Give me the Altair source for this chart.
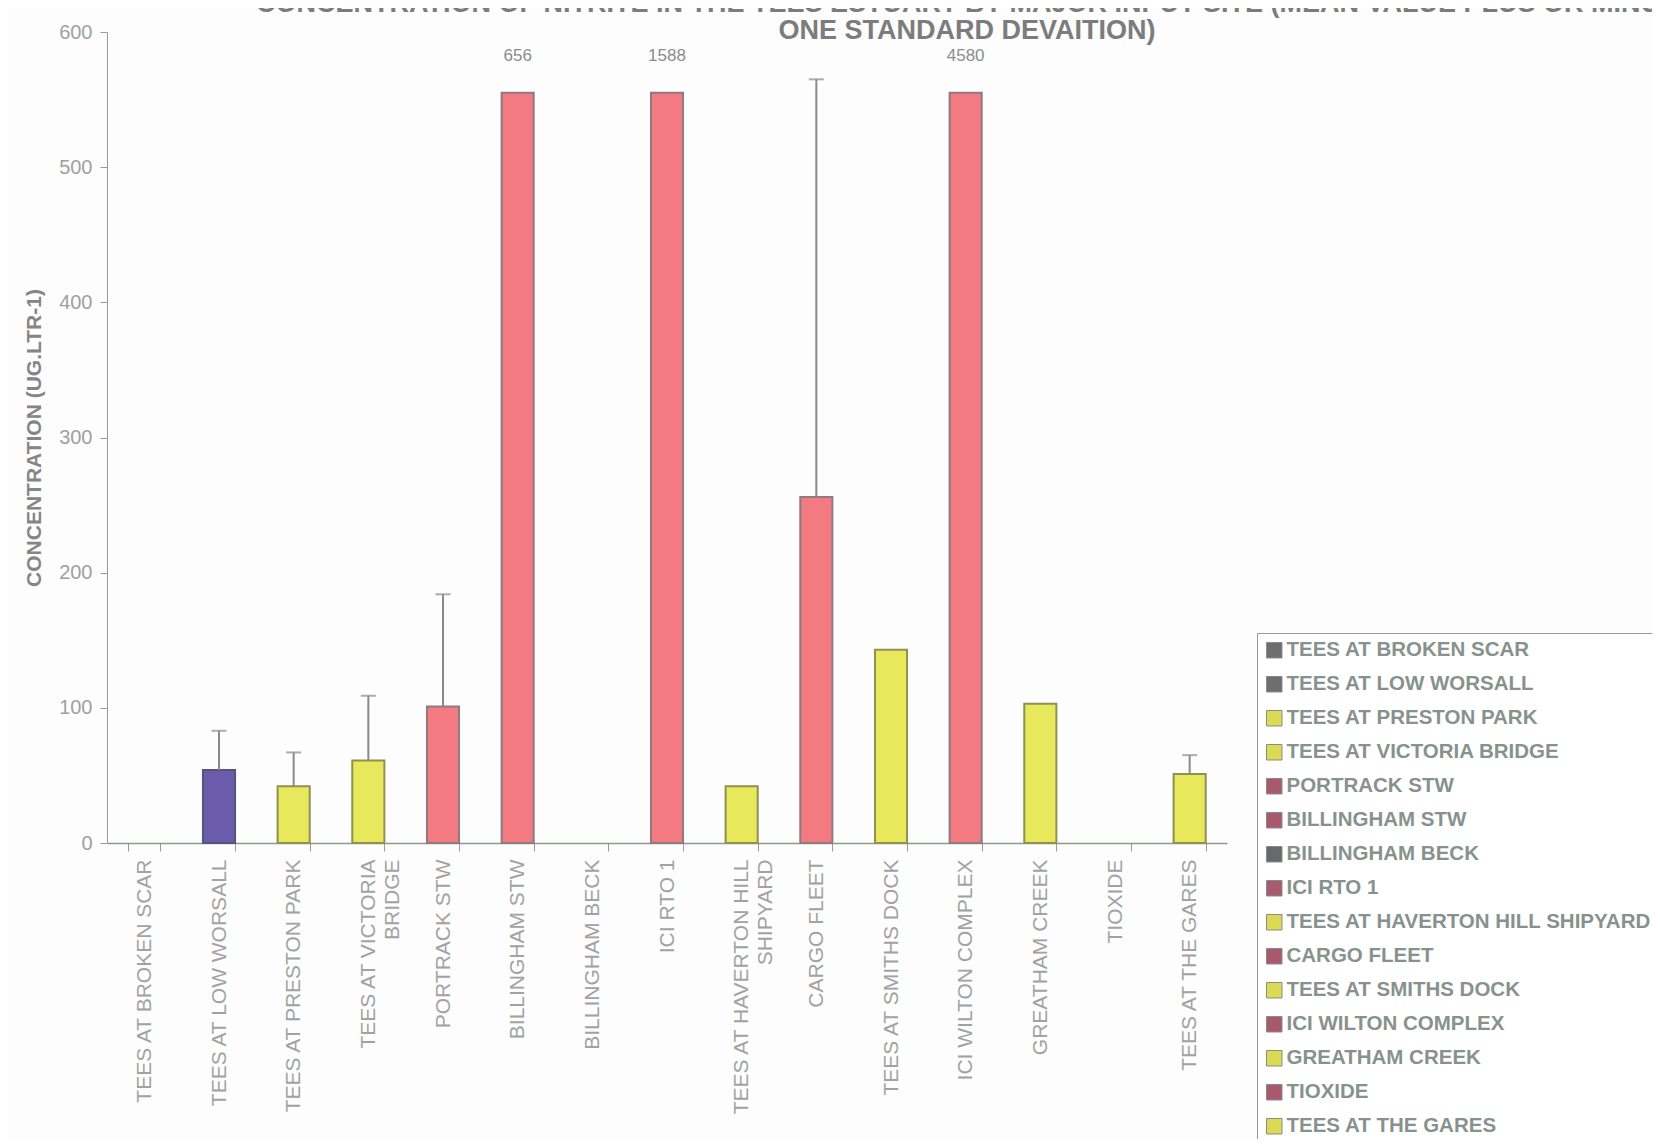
import altair as alt
import pandas as pd

sites = [
    "TEES AT BROKEN SCAR", "TEES AT LOW WORSALL", "TEES AT PRESTON PARK",
    "TEES AT VICTORIA BRIDGE", "PORTRACK STW", "BILLINGHAM STW", "BILLINGHAM BECK",
    "ICI RTO 1", "TEES AT HAVERTON HILL SHIPYARD", "CARGO FLEET", "TEES AT SMITHS DOCK",
    "ICI WILTON COMPLEX", "GREATHAM CREEK", "TIOXIDE", "TEES AT THE GARES",
]
means = [0, 54, 42, 61, 101, 656, 0, 1588, 42, 256, 143, 4580, 103, 0, 51]
sds = [0, 29, 25, 48, 83, 0, 0, 0, 0, 309, 0, 0, 0, 0, 14]

bar_fill = ["#707070", "#6a5cab", "#e8e85c", "#e8e85c", "#f27a80", "#f27a80", "#707070",
            "#f27a80", "#e8e85c", "#f27a80", "#e8e85c", "#f27a80", "#e8e85c", "#f27a80", "#e8e85c"]
bar_stroke = ["#777777", "#55557a", "#8f9150", "#8f9150", "#8c7c80", "#8c7c80", "#777777",
              "#8c7c80", "#8f9150", "#8c7c80", "#8f9150", "#8c7c80", "#8f9150", "#8c7c80", "#8f9150"]
legend_colors = ["#6e6e6e", "#6e6e6e", "#dada55", "#dada55", "#a85a6c", "#a85a6c", "#666a6a",
                 "#a85a70", "#dada55", "#a85a6c", "#dada55", "#a85a6c", "#dada55", "#a85a6c", "#dada55"]

title_lines = [
    "CONCENTRATION OF NITRITE IN THE TEES ESTUARY BY MAJOR INPUT SITE (MEAN VALUE PLUS OR MINUS",
    "ONE STANDARD DEVAITION)",
]
y_title = "CONCENTRATION (UG.LTR-1)"
y_ticks = [0, 100, 200, 300, 400, 500, 600]
wrapped = {
    "TEES AT VICTORIA BRIDGE": ["TEES AT VICTORIA", "BRIDGE"],
    "TEES AT HAVERTON HILL SHIPYARD": ["TEES AT HAVERTON HILL", "SHIPYARD"],
}

AXIS_MAX = 600
CLIP = 555  # bars beyond the axis are drawn cut off, as in the original

df = pd.DataFrame({"site": sites, "mean": means, "sd": sds})
df["key"] = df["site"]
df["shown"] = df["mean"].clip(upper=CLIP)
df["top"] = df["mean"] + df["sd"]
df["lab"] = df["mean"].astype(str)

label_expr = ""
for k, v in wrapped.items():
    label_expr += "datum.value == '%s' ? [%s] : " % (k, ", ".join("'%s'" % s for s in v))
label_expr += "datum.value"

FONT = "Liberation Sans"

x_enc = alt.X(
    "site:N", sort=sites,
    scale=alt.Scale(domain=sites, paddingInner=0.57, paddingOuter=0.285),
    axis=alt.Axis(
        title=None, labelAngle=270, labelAlign="right", labelBaseline="middle",
        labelFont=FONT, labelFontSize=21, labelColor="#a2a2a2", labelLimit=0,
        labelLineHeight=24, labelPadding=8, labelExpr=label_expr,
        tickBand="extent", tickSize=8, tickColor="#9a9a9a", domainColor="#8e9a86",
        domainWidth=1.5,
    ),
)
y_scale = alt.Scale(domain=[0, AXIS_MAX], nice=False, clamp=False)
y_axis = alt.Axis(
    values=y_ticks, title=y_title, titleFont=FONT, titleFontSize=21,
    titleFontWeight="bold", titleColor="#858585", titlePadding=14,
    labelFont=FONT, labelFontSize=20, labelColor="#a0a0a0", labelPadding=8,
    tickSize=7, tickColor="#9a9a9a", domainColor="#9a9a9a", grid=False,
)

base = alt.Chart(df)

bars = base.transform_filter("datum.mean > 0").mark_bar(strokeWidth=2).encode(
    x=x_enc,
    y=alt.Y("shown:Q", scale=y_scale, axis=y_axis),
    fill=alt.Fill("site:N", scale=alt.Scale(domain=sites, range=bar_fill), legend=None),
    stroke=alt.Stroke("site:N", scale=alt.Scale(domain=sites, range=bar_stroke), legend=None),
)

err = base.transform_filter("datum.sd > 0").mark_rule(color="#8a8a8a", strokeWidth=2).encode(
    x=alt.X("site:N", sort=sites),
    y=alt.Y("mean:Q"),
    y2="top:Q",
)
caps = base.transform_filter("datum.sd > 0").mark_tick(
    color="#8a8a8a", thickness=2, size=15, orient="horizontal"
).encode(
    x=alt.X("site:N", sort=sites),
    y=alt.Y("top:Q"),
)

labels = base.transform_filter("datum.mean > %d" % AXIS_MAX).transform_calculate(
    ly="datum.shown + 27"
).mark_text(font=FONT, fontSize=17, color="#8c8c8c", baseline="middle").encode(
    x=alt.X("site:N", sort=sites),
    y=alt.Y("ly:Q"),
    text="lab:N",
)

legend_layer = base.mark_square(size=1, opacity=0).encode(
    x=alt.X("site:N", sort=sites),
    y=alt.Y("shown:Q"),
    color=alt.Color(
        "key:N", sort=sites, scale=alt.Scale(domain=sites, range=legend_colors),
        legend=alt.Legend(
            title=None, orient="none", legendX=1150, legendY=601, direction="vertical",
            labelFont=FONT, labelFontSize=20.5, labelFontWeight="bold", labelColor="#88928d",
            labelLimit=0, labelOffset=2, symbolType="square", symbolSize=240,
            symbolOpacity=1, symbolStrokeColor="#8a8a8a", symbolStrokeWidth=1,
            rowPadding=13.0, padding=7, strokeColor="#9a9a9a", fillColor="#ffffff",
        ),
    ),
)

chart = alt.layer(bars, err, caps, labels, legend_layer).resolve_scale(
    color="independent"
).properties(
    width=1120,
    height=811,
    title=alt.Title(
        text=title_lines, font=FONT, fontSize=27, fontWeight="bold", color="#7c7c7c",
        anchor="middle", dx=300, lineHeight=27, offset=-23, frame="group",
    ),
    autosize=alt.AutoSizeParams(type="none"),
    padding={"left": 99, "top": 24, "right": 425, "bottom": 296},
    background="#fdfdfd",
).configure_view(stroke=None)

chart.save("out.html", embed_options={"renderer": "svg", "actions": False})
